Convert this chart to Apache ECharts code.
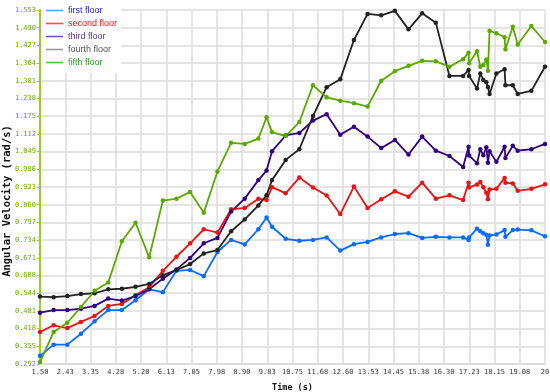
<!DOCTYPE html>
<html>
<head>
<meta charset="utf-8">
<script src="https://cdn.jsdelivr.net/npm/echarts@6/dist/echarts.min.js"></script>
<style>html,body{margin:0;padding:0;background:#fff}#c{width:550px;height:392px}</style>
</head>
<body>
<div id="c"></div>
<script>
const times = [1.5,2,2.5,3,3.5,4,4.5,5,5.5,6,6.5,7,7.5,8,8.5,9,9.5,9.8,10,10.5,11,11.5,12,12.5,13,13.5,14,14.5,15,15.5,16,16.5,17,17.2,17.22,17.51,17.63,17.74,17.85,17.91,17.97,18.22,18.52,18.55,18.82,19,19.5,20];
const firstFloor = [0.321,0.361,0.361,0.400,0.444,0.484,0.484,0.519,0.558,0.548,0.624,0.627,0.605,0.691,0.734,0.718,0.772,0.814,0.781,0.738,0.731,0.734,0.743,0.696,0.719,0.727,0.743,0.755,0.758,0.741,0.745,0.743,0.743,0.734,0.743,0.774,0.765,0.758,0.752,0.717,0.750,0.753,0.769,0.745,0.769,0.771,0.768,0.747];
const secondFloor = [0.406,0.430,0.420,0.442,0.463,0.499,0.506,0.537,0.565,0.624,0.674,0.722,0.772,0.760,0.843,0.848,0.881,0.876,0.922,0.900,0.956,0.921,0.892,0.826,0.924,0.848,0.879,0.907,0.888,0.938,0.881,0.893,0.876,0.938,0.921,0.931,0.940,0.922,0.902,0.879,0.914,0.916,0.955,0.938,0.935,0.909,0.916,0.932];
const thirdFloor = [0.475,0.484,0.484,0.489,0.499,0.525,0.518,0.534,0.558,0.596,0.629,0.670,0.722,0.741,0.835,0.881,0.947,0.981,1.050,1.106,1.115,1.159,1.182,1.109,1.137,1.102,1.061,1.090,1.038,1.102,1.052,1.033,0.994,1.066,1.035,1.007,1.057,1.036,1.064,1.009,1.050,1.012,1.066,1.026,1.069,1.052,1.057,1.076];
const fourthFloor = [0.532,0.530,0.534,0.541,0.544,0.558,0.560,0.567,0.577,0.608,0.627,0.648,0.686,0.698,0.765,0.807,0.857,0.893,0.947,1.019,1.057,1.175,1.278,1.306,1.446,1.539,1.534,1.550,1.484,1.541,1.508,1.318,1.318,1.339,1.318,1.273,1.327,1.304,1.296,1.279,1.254,1.327,1.342,1.285,1.285,1.254,1.265,1.351];
const fifthFloor = [0.299,0.406,0.439,0.495,0.553,0.582,0.729,0.795,0.672,0.874,0.881,0.905,0.831,0.978,1.080,1.076,1.095,1.171,1.118,1.104,1.154,1.285,1.242,1.230,1.221,1.209,1.301,1.335,1.354,1.372,1.370,1.351,1.378,1.401,1.363,1.406,1.351,1.357,1.377,1.337,1.479,1.470,1.456,1.413,1.493,1.430,1.496,1.439];
const seriesNames = ['first floor','second floor','third floor','fourth floor','fifth floor'];
const xTickLabels = ['1.50','2.43','3.35','4.28','5.20','6.13','7.05','7.98','8.90','9.83','10.75','11.68','12.60','13.53','14.45','15.38','16.30','17.23','18.15','19.08','20'];
const yTickLabels = ['0.292','0.355','0.418','0.481','0.544','0.608','0.671','0.734','0.797','0.860','0.923','0.986','1.049','1.112','1.175','1.238','1.301','1.364','1.427','1.490','1.553'];

const X_MIN = 1.5, X_MAX = 20, X_STEP = 0.925;
const Y_MIN = 0.292, Y_MAX = 1.553, Y_STEP = (1.553 - 0.292) / 20;

const lineColors = ['#0a6cff','#ee1111','#330080','#222222','#5aaa00'];
const legendLineColors = ['#6a9cff','#ff4a4a','#7a50b0','#9a9a9a','#5cbb5c'];
const legendTextColors = ['#1a1aff','#ee1111','#663399','#555555','#22aa22'];
const values = [firstFloor, secondFloor, thirdFloor, fourthFloor, fifthFloor];

const mono = '"DejaVu Sans Mono", monospace';

const chart = echarts.init(document.getElementById('c'), null, {renderer: 'canvas'});
chart.setOption({
  animation: false,
  backgroundColor: '#ffffff',
  grid: {left: 40, right: 5, top: 10, bottom: 28, containLabel: false, outerBoundsMode: 'none'},
  legend: {
    orient: 'vertical', left: 41, top: 0,
    backgroundColor: '#ffffff',
    padding: [5, 4, 5, 5],
    itemGap: 2, itemWidth: 17, itemHeight: 1.6,
    icon: 'rect',
    textStyle: {fontSize: 9, fontFamily: '"Liberation Sans", Arial, sans-serif', lineHeight: 11, padding: [0,0,0,0]},
    data: seriesNames.map((n, i) => ({name: n, itemStyle: {color: legendLineColors[i]}, textStyle: {color: legendTextColors[i]}})),
    z: 10
  },
  xAxis: {
    type: 'value', min: X_MIN, max: X_MAX, interval: X_STEP,
    name: 'Time (s)', nameLocation: 'middle', nameGap: 19, nameMoveOverlap: false,
    nameTextStyle: {fontFamily: mono, fontWeight: 'bold', fontSize: 8.5, color: '#111'},
    axisLine: {show: true, lineStyle: {color: '#d8d8d8', width: 1.5}},
    axisTick: {show: false},
    axisLabel: {
      fontFamily: mono, fontSize: 7, color: '#333', margin: 5,
      formatter: v => { const i = Math.round((v - X_MIN) / X_STEP); return xTickLabels[i] !== undefined ? xTickLabels[i] : ''; }
    },
    splitLine: {show: true, lineStyle: {color: '#dcdcdc', width: 1.5}}
  },
  yAxis: {
    type: 'value', min: Y_MIN, max: Y_MAX, interval: Y_STEP,
    name: 'Angular Velocity (rad/s)', nameLocation: 'middle', nameGap: 27.5, nameMoveOverlap: false,
    nameTextStyle: {fontFamily: mono, fontWeight: 'bold', fontSize: 10.5, color: '#111', padding: [0, 28, 0, 0]},
    axisLine: {show: true, lineStyle: {color: '#99cc33', width: 2}},
    axisTick: {show: true, length: 3, lineStyle: {color: '#99cc33', width: 1}},
    axisLabel: {
      fontFamily: mono, fontSize: 7, color: '#66aa00', margin: 4,
      formatter: v => { const i = Math.round((v - Y_MIN) / Y_STEP); return yTickLabels[i] !== undefined ? yTickLabels[i] : ''; }
    },
    splitLine: {show: true, lineStyle: {color: '#dcdcdc', width: 1.5}}
  },
  series: seriesNames.map((n, i) => ({
    name: n, type: 'line',
    data: times.map((t, k) => [t, values[i][k]]),
    symbol: 'circle', symbolSize: 4.5, showAllSymbol: true,
    lineStyle: {color: lineColors[i], width: 1.8},
    itemStyle: {color: lineColors[i]},
    emphasis: {disabled: true}
  }))
});
</script>
</body>
</html>
